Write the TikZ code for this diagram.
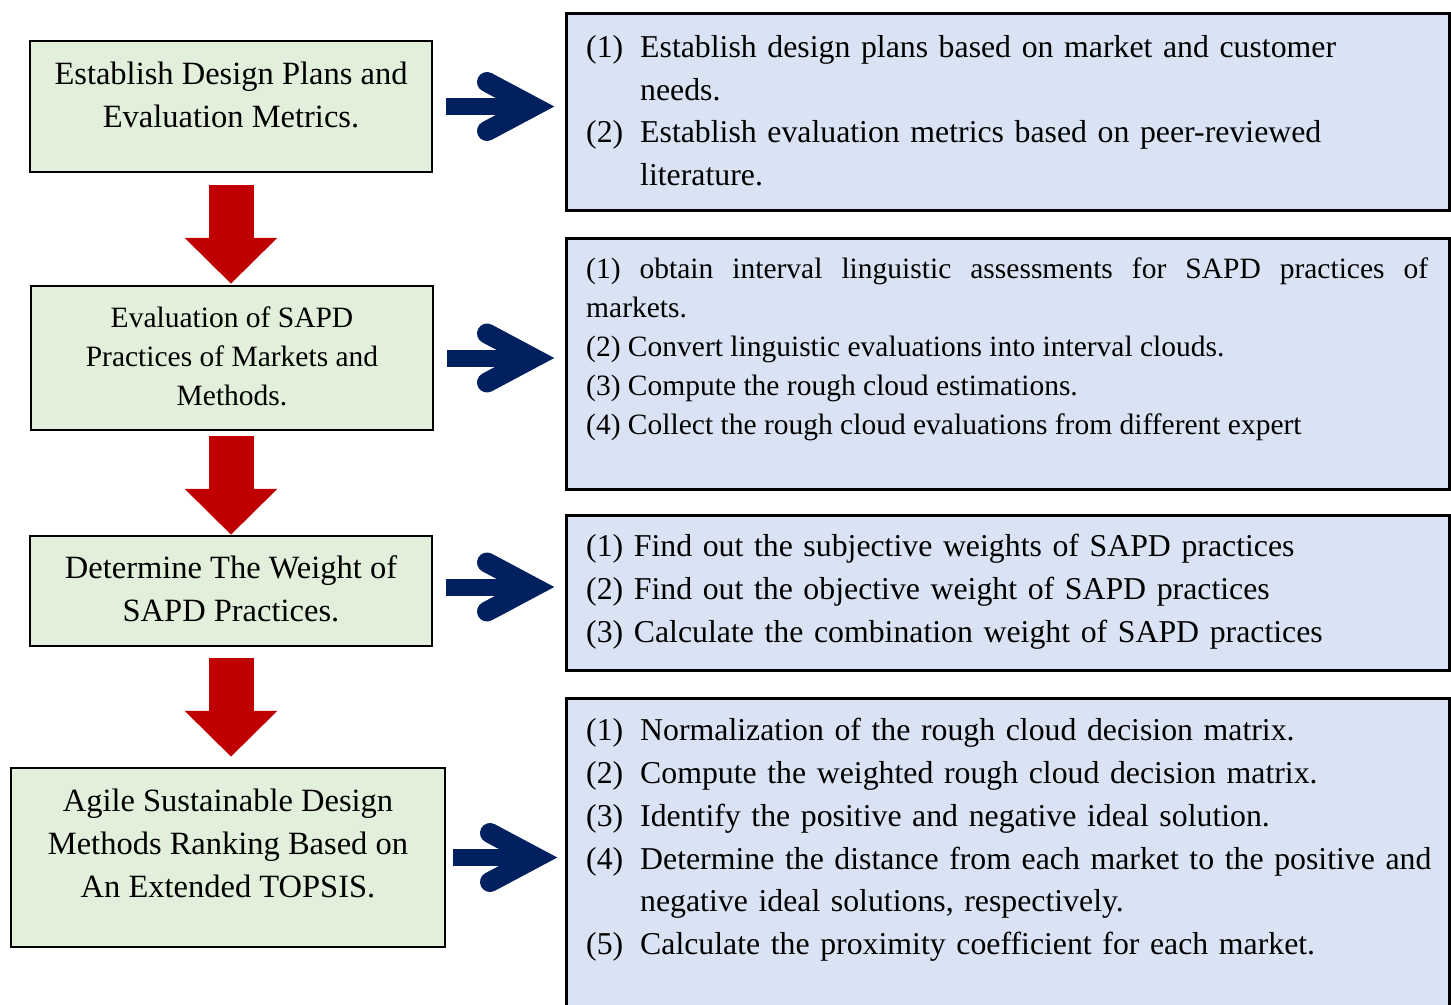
\documentclass[tikz,border=0pt]{standalone}
\usepackage{fontspec}
\setmainfont{Liberation Serif}
\usetikzlibrary{positioning,calc,arrows.meta}
\definecolor{stagegreen}{HTML}{E2EFDA}
\definecolor{stepblue}{HTML}{DAE3F3}
\definecolor{arrowred}{HTML}{C00000}
\definecolor{arrownavy}{HTML}{002060}

\newcommand{\stepitem}[2]{\hangindent=54pt\hangafter=1\makebox[54pt][l]{#1}#2\par}
\newcommand{\nohyph}{\hyphenpenalty=10000\tolerance=9999\relax}

\begin{document}
\begin{tikzpicture}[x=1pt,y=-1pt,
            stagebox/.style={rectangle,draw=black,line width=2.5pt,fill=stagegreen},
            stepsbox/.style={rectangle,draw=black,line width=2.5pt,fill=stepblue,minimum width=883pt,anchor=north west},
            stagetext/.style={align=center,inner sep=0pt,font=\fontsize{32.5}{43}\selectfont},
            smalltext/.style={align=center,inner sep=0pt,font=\fontsize{29.5}{39}\selectfont},
            stepstext/.style={anchor=north west,inner sep=0pt,text width=860pt,align=left,font=\fontsize{31.8}{42.8}\selectfont\nohyph},
            redarrow/.style={draw=arrowred,line width=45pt,-{Triangle[width=90pt,length=46pt]}},
            navyshaft/.style={draw=arrownavy,line width=17pt},
            chevron/.style={draw=arrownavy,line width=20pt,line cap=round,line join=miter}]

            \useasboundingbox (0,0) rectangle (1451,1004);

            % stages on the left
            \node[stagebox,minimum width=402pt,minimum height=131pt] (plans) at (231,106.5) {};
            \node[stagetext] at ([yshift=11.5pt]plans.center) {Establish Design Plans and\\Evaluation Metrics.};
            \node[stagebox,minimum width=402pt,minimum height=144pt] (evaluation) at (232,358) {};
            \node[smalltext] at ([yshift=2pt]evaluation.center) {Evaluation of SAPD\\Practices of Markets and\\Methods.};
            \node[stagebox,minimum width=402pt,minimum height=110pt] (weighting) at (231,591) {};
            \node[stagetext] at ([yshift=2pt]weighting.center) {Determine The Weight of\\SAPD Practices.};
            \node[stagebox,minimum width=434pt,minimum height=179pt] (ranking) at (228,857.5) {};
            \node[stagetext] at ([yshift=14.5pt]ranking.center) {Agile Sustainable Design\\Methods Ranking Based on\\An Extended TOPSIS.};

            % steps on the right
            \node[stepsbox,minimum height=197pt] (plansteps) at (565,12) {};
            \node[stepstext] at ([xshift=21pt,yshift=-23pt]plansteps.north west)
               {\stepitem{(1)}{Establish design plans based on market and customer\newline needs.}
                \stepitem{(2)}{Establish evaluation metrics based on peer-reviewed\newline literature.}};
            \node[stepsbox,minimum height=251pt] (evalsteps) at (565,237) {};
            \node[stepstext,text width=842pt,align=justify,font=\fontsize{29.5}{39}\selectfont\nohyph] at ([xshift=21pt,yshift=-21pt]evalsteps.north west)
               {(1) obtain interval linguistic assessments for SAPD practices of\linebreak markets.\par
                (2) Convert linguistic evaluations into interval clouds.\par
                (3) Compute the rough cloud estimations.\par
                (4) Collect the rough cloud evaluations from different expert\par};
            \node[stepsbox,minimum height=155pt] (weightsteps) at (565,514) {};
            \node[stepstext] at ([xshift=21pt,yshift=-20pt]weightsteps.north west)
               {(1) Find out the subjective weights of SAPD practices\\
                (2) Find out the objective weight of SAPD practices\\
                (3) Calculate the combination weight of SAPD practices};
            \node[stepsbox,minimum height=330pt] (rankingsteps) at (565,697) {};
            \node[stepstext] at ([xshift=21pt,yshift=-21pt]rankingsteps.north west)
               {\stepitem{(1)}{Normalization of the rough cloud decision matrix.}
                \stepitem{(2)}{Compute the weighted rough cloud decision matrix.}
                \stepitem{(3)}{Identify the positive and negative ideal solution.}
                \stepitem{(4)}{Determine the distance from each market to the positive and\newline negative ideal solutions, respectively.}
                \stepitem{(5)}{Calculate the proximity coefficient for each market.}};

            % red arrows between stages
            \draw[redarrow,shorten <=12pt,shorten >=1pt] (plans.south) -- (plans.south |- evaluation.north);
            \draw[redarrow,shorten <=5pt] (evaluation.south -| plans.south) -- (weighting.north);
            \draw[redarrow,shorten <=11pt,shorten >=10pt] (weighting.south) -- (weighting.south |- ranking.north);

            % navy arrows to the steps
            \coordinate (tipA) at ($(plans.east -| plansteps.west)+(-11,0)$);
            \draw[navyshaft,shorten <=13pt,shorten >=30pt] (plans.east) -- (tipA);
            \draw[chevron] ($(tipA)+(-67,-24.5)$) -- ($(tipA)+(-21,0)$) -- ($(tipA)+(-67,24.5)$);
            \coordinate (tipB) at ($(evaluation.east -| evalsteps.west)+(-11,0)$);
            \draw[navyshaft,shorten <=13pt,shorten >=30pt] (evaluation.east) -- (tipB);
            \draw[chevron] ($(tipB)+(-67,-24.5)$) -- ($(tipB)+(-21,0)$) -- ($(tipB)+(-67,24.5)$);
            \coordinate (tipC) at ($(weighting.east -| weightsteps.west)+(-11,-4)$);
            \draw[navyshaft,shorten <=13pt,shorten >=30pt] ([yshift=4pt]weighting.east) -- (tipC);
            \draw[chevron] ($(tipC)+(-67,-24.5)$) -- ($(tipC)+(-21,0)$) -- ($(tipC)+(-67,24.5)$);
            \coordinate (tipD) at ($(ranking.east -| rankingsteps.west)+(-8,0)$);
            \draw[navyshaft,shorten <=7pt,shorten >=27pt] (ranking.east) -- (tipD);
            \draw[chevron] ($(tipD)+(-67,-24.5)$) -- ($(tipD)+(-21,0)$) -- ($(tipD)+(-67,24.5)$);
\end{tikzpicture}
\end{document}
